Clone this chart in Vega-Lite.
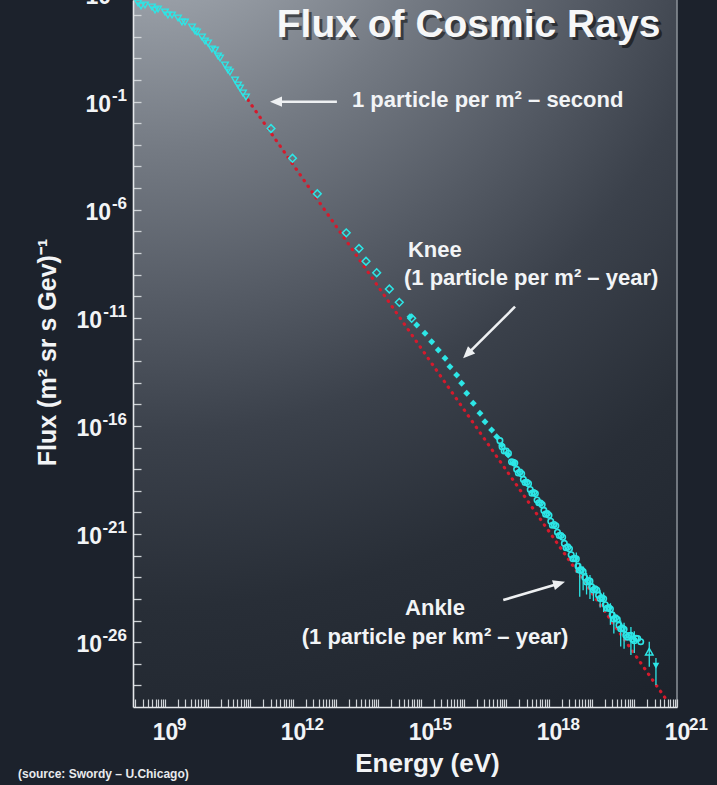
{
  "$schema": "https://vega.github.io/schema/vega-lite/v6.json",
  "width": 544,
  "height": 707,
  "autosize": {"type": "none"},
  "padding": {"left": 133, "top": 0, "right": 40, "bottom": 78},
  "background": "#1c222c",
  "config": {"view": {"stroke": null}, "font": "Liberation Sans"},
  "datasets": {
    "bg": [{"E": 177827941, "E2": 1e32, "F": 1e-29, "F2": 5011.87}],
    "border": [{"E": 1e21, "F": 1e-29, "F2": 5011.87}],
    "fit": [{"E": 8.81e10, "F": 0.119}, {"E": 6.31e20, "F": 1.58e-29}],
    "tri": [
      {"E": 2.33e8, "F": 3640}, {"E": 3.40e8, "F": 2940}, {"E": 4.95e8, "F": 2380}, {"E": 6.85e8, "F": 1920},
      {"E": 1.00e9, "F": 1400}, {"E": 1.46e9, "F": 1010}, {"E": 2.02e9, "F": 736}, {"E": 2.94e9, "F": 481},
      {"E": 4.30e9, "F": 282}, {"E": 5.62e9, "F": 166}, {"E": 7.36e9, "F": 97.5}, {"E": 1.02e10, "F": 51.4},
      {"E": 1.49e10, "F": 24.4}, {"E": 1.95e10, "F": 10.4}, {"E": 2.55e10, "F": 4.94}, {"E": 3.33e10, "F": 2.34},
      {"E": 4.38e10, "F": 1.00}, {"E": 5.73e10, "F": 0.427}, {"E": 7.91e10, "F": 0.163},
      {"E": 2.74e8, "F": 2640}, {"E": 5.83e8, "F": 1730}, {"E": 1.17e9, "F": 1010}, {"E": 2.50e9, "F": 481},
      {"E": 5.05e9, "F": 185}, {"E": 8.65e9, "F": 63.7}, {"E": 1.26e10, "F": 27.2}, {"E": 1.75e10, "F": 12.9},
      {"E": 2.99e10, "F": 2.90}, {"E": 5.14e10, "F": 0.587}, {"E": 6.73e10, "F": 0.251}
    ],
    "dia": [
      {"E": 3.05e11, "F": 5.70e-3}, {"E": 9.73e11, "F": 2.39e-4}, {"E": 3.71e12, "F": 5.45e-6},
      {"E": 1.77e13, "F": 8.55e-8}, {"E": 3.52e13, "F": 1.61e-8}, {"E": 5.14e13, "F": 4.15e-9},
      {"E": 9.14e13, "F": 1.22e-9}, {"E": 1.81e14, "F": 2.15e-10}, {"E": 3.10e14, "F": 5.21e-11},
      {"E": 6.05e14, "F": 9.51e-12}
    ],
    "knee": [
      {"E": 5.52e14, "F": 1.13e-11}, {"E": 7.93e14, "F": 4.66e-12}, {"E": 1.24e15, "F": 1.92e-12},
      {"E": 1.78e15, "F": 7.85e-13}, {"E": 2.54e15, "F": 3.24e-13}, {"E": 3.65e15, "F": 1.34e-13},
      {"E": 4.78e15, "F": 5.48e-14}, {"E": 6.85e15, "F": 2.26e-14}, {"E": 8.97e15, "F": 9.35e-15},
      {"E": 1.18e16, "F": 3.23e-15}, {"E": 1.68e16, "F": 1.11e-15}, {"E": 2.41e16, "F": 3.84e-16},
      {"E": 3.16e16, "F": 1.57e-16}, {"E": 4.53e16, "F": 6.47e-17}, {"E": 5.94e16, "F": 3.18e-17},
      {"E": 7.78e16, "F": 1.31e-17}, {"E": 1.11e17, "F": 4.52e-18}, {"E": 1.46e17, "F": 1.87e-18}
    ],
    "band": [
      {"E": 7.08e16, "F": 2.09e-17}, {"E": 8.91e16, "F": 6.92e-18}, {"E": 1.12e17, "F": 5.50e-18},
      {"E": 1.32e17, "F": 2.19e-18}, {"E": 1.58e17, "F": 1.91e-18}, {"E": 1.91e17, "F": 6.61e-19},
      {"E": 2.29e17, "F": 6.17e-19}, {"E": 2.75e17, "F": 2.40e-19}, {"E": 3.31e17, "F": 2.14e-19},
      {"E": 3.98e17, "F": 7.76e-20}, {"E": 4.79e17, "F": 7.41e-20}, {"E": 5.75e17, "F": 2.82e-20},
      {"E": 6.92e17, "F": 2.29e-20}, {"E": 8.32e17, "F": 8.32e-21}, {"E": 1.00e18, "F": 7.41e-21},
      {"E": 1.20e18, "F": 2.57e-21}, {"E": 1.45e18, "F": 2.40e-21}, {"E": 1.74e18, "F": 8.51e-22},
      {"E": 2.09e18, "F": 7.08e-22}, {"E": 2.51e18, "F": 2.34e-22}, {"E": 3.02e18, "F": 2.09e-22},
      {"E": 3.63e18, "F": 7.24e-23}, {"E": 4.37e18, "F": 7.08e-23}, {"E": 5.25e18, "F": 2.14e-23},
      {"E": 6.31e18, "F": 1.86e-23}, {"E": 7.59e18, "F": 6.03e-24}, {"E": 9.12e18, "F": 6.61e-24},
      {"E": 1.10e19, "F": 2.57e-24}, {"E": 1.32e19, "F": 2.57e-24}, {"E": 1.58e19, "F": 1.05e-24},
      {"E": 1.91e19, "F": 1.02e-24}, {"E": 2.29e19, "F": 3.72e-25}, {"E": 2.75e19, "F": 3.39e-25},
      {"E": 3.31e19, "F": 1.17e-25}, {"E": 3.98e19, "F": 1.15e-25}, {"E": 4.79e19, "F": 4.17e-26},
      {"E": 5.75e19, "F": 3.98e-26}, {"E": 6.92e19, "F": 1.70e-26}, {"E": 8.32e19, "F": 2.09e-26},
      {"E": 1.00e20, "F": 1.17e-26}, {"E": 1.20e20, "F": 1.48e-26}, {"E": 1.41e20, "F": 1.05e-26},
      {"E": 7.94e16, "F": 1.10e-17}, {"E": 1.00e17, "F": 6.97e-18}, {"E": 1.45e17, "F": 2.10e-18},
      {"E": 1.74e17, "F": 9.79e-19}, {"E": 2.09e17, "F": 7.40e-19}, {"E": 2.51e17, "F": 3.36e-19},
      {"E": 3.02e17, "F": 2.48e-19}, {"E": 3.63e17, "F": 1.15e-19}, {"E": 4.37e17, "F": 8.30e-20},
      {"E": 5.25e17, "F": 3.78e-20}, {"E": 6.31e17, "F": 2.72e-20}, {"E": 7.59e17, "F": 1.24e-20},
      {"E": 9.12e17, "F": 8.81e-21}, {"E": 1.10e18, "F": 3.91e-21}, {"E": 1.32e18, "F": 2.75e-21},
      {"E": 1.58e18, "F": 1.22e-21}, {"E": 1.91e18, "F": 8.51e-22}, {"E": 2.29e18, "F": 3.69e-22},
      {"E": 2.75e18, "F": 2.54e-22}, {"E": 3.31e18, "F": 1.10e-22}, {"E": 3.98e18, "F": 7.53e-23},
      {"E": 4.79e18, "F": 3.27e-23}, {"E": 5.75e18, "F": 2.24e-23}, {"E": 6.92e18, "F": 9.73e-24},
      {"E": 8.32e18, "F": 7.08e-24}, {"E": 1.00e19, "F": 3.60e-24}, {"E": 1.20e19, "F": 2.90e-24},
      {"E": 1.45e19, "F": 1.47e-24}, {"E": 1.74e19, "F": 1.14e-24}, {"E": 2.09e19, "F": 5.38e-25},
      {"E": 2.51e19, "F": 3.97e-25}, {"E": 3.02e19, "F": 1.83e-25}, {"E": 3.63e19, "F": 1.33e-25},
      {"E": 4.37e19, "F": 6.12e-26}, {"E": 5.25e19, "F": 4.47e-26}, {"E": 6.31e19, "F": 2.06e-26},
      {"E": 7.59e19, "F": 2.03e-26}, {"E": 9.12e19, "F": 1.37e-26}, {"E": 1.10e20, "F": 1.52e-26}
    ],
    "err": [
      {"E": 4.37e18, "F": 1.6e-23, "F2": 1.4e-22}, {"E": 5.25e18, "F": 1.26e-24, "F2": 3.98e-23},
      {"E": 6.31e18, "F": 2.51e-24, "F2": 3.16e-23}, {"E": 7.59e18, "F": 1.6e-24, "F2": 1.6e-23},
      {"E": 9.12e18, "F": 1.0e-24, "F2": 1.26e-23}, {"E": 1.10e19, "F": 7.94e-25, "F2": 5.01e-24},
      {"E": 1.58e19, "F": 4.0e-25, "F2": 2.5e-24},
      {"E": 1.91e19, "F": 2.51e-25, "F2": 2.00e-24}, {"E": 2.75e19, "F": 6.31e-26, "F2": 6.31e-25},
      {"E": 3.31e19, "F": 2.51e-26, "F2": 2.51e-25}, {"E": 4.79e19, "F": 6.31e-27, "F2": 1.0e-25},
      {"E": 5.75e19, "F": 5.01e-27, "F2": 7.94e-26}, {"E": 8.32e19, "F": 2.51e-27, "F2": 5.01e-26},
      {"E": 1.0e20, "F": 3.16e-27, "F2": 3.16e-26}, {"E": 2.24e20, "F": 7.24e-28, "F2": 1.05e-26},
      {"E": 3.21e20, "F": 1.05e-28, "F2": 1.86e-27}
    ],
    "up": [{"E": 2.24e20, "F": 3.61e-27}],
    "down": [{"E": 3.21e20, "F": 8.11e-28}],
    "arrows": [
      {"E": 1.07e13, "F": 0.099, "E2": 3.99e11, "F2": 0.099},
      {"E": 1.60e17, "F": 3.27e-11, "E2": 1.22e16, "F2": 2.10e-13},
      {"E": 8.47e16, "F": 8.87e-25, "E2": 1.74e18, "F2": 5.20e-24}
    ],
    "heads": [
      {"id": "a1", "E": 3.99e11, "F": 0.099},
      {"id": "a2", "E": 1.22e16, "F": 2.10e-13},
      {"id": "a3", "E": 1.74e18, "F": 5.20e-24}
    ],
    "xexp": [
      {"E": 1e9, "F": 1e-29, "t": "9"}, {"E": 1e12, "F": 1e-29, "t": "12"}, {"E": 1e15, "F": 1e-29, "t": "15"},
      {"E": 1e18, "F": 1e-29, "t": "18"}, {"E": 1e21, "F": 1e-29, "t": "21"}
    ],
    "yexp": [
      {"E": 177827941, "F": 10000, "t": "4"},
      {"E": 177827941, "F": 0.1, "t": "-1"}, {"E": 177827941, "F": 1e-6, "t": "-6"},
      {"E": 177827941, "F": 1e-11, "t": "-11"}, {"E": 177827941, "F": 1e-16, "t": "-16"},
      {"E": 177827941, "F": 1e-21, "t": "-21"}, {"E": 177827941, "F": 1e-26, "t": "-26"}
    ],
    "ttl": [{"E": 1.30e16, "F": 97.5, "t": "Flux of Cosmic Rays"}],
    "annL": [
      {"E": 2.41e13, "F": 0.0535, "t": "1 particle per m² – second"},
      {"E": 4.95e14, "F": 6.71e-9, "t": "Knee"},
      {"E": 3.99e14, "F": 3.30e-10, "t": "(1 particle per m² – year)"}
    ],
    "annC": [
      {"E": 2.13e15, "F": 1.79e-25, "t": "Ankle"},
      {"E": 2.13e15, "F": 8.18e-27, "t": "(1 particle per km² – year)"}
    ],
    "src": [{"E": 3.59e5, "F": 5.19e-33, "t": "(source: Swordy – U.Chicago)"}]
  },
  "encoding": {
    "x": {
      "field": "E",
      "type": "quantitative",
      "scale": {"type": "log", "domain": [177827941, 1e21], "nice": false, "zero": false},
      "axis": {
        "zindex": 2,
        "title": "Energy (eV)",
        "titleFont": "Liberation Sans",
        "titleFontWeight": "bold",
        "titleFontSize": 26,
        "titleColor": "#f2f4f6",
        "titleX": 294,
        "titleY": 64,
        "titleBaseline": "alphabetic",
        "titleAlign": "center",
        "values": [2e8,3e8,4e8,5e8,6e8,7e8,8e8,9e8,
          1e9,2e9,3e9,4e9,5e9,6e9,7e9,8e9,9e9,
          1e10,2e10,3e10,4e10,5e10,6e10,7e10,8e10,9e10,
          1e11,2e11,3e11,4e11,5e11,6e11,7e11,8e11,9e11,
          1e12,2e12,3e12,4e12,5e12,6e12,7e12,8e12,9e12,
          1e13,2e13,3e13,4e13,5e13,6e13,7e13,8e13,9e13,
          1e14,2e14,3e14,4e14,5e14,6e14,7e14,8e14,9e14,
          1e15,2e15,3e15,4e15,5e15,6e15,7e15,8e15,9e15,
          1e16,2e16,3e16,4e16,5e16,6e16,7e16,8e16,9e16,
          1e17,2e17,3e17,4e17,5e17,6e17,7e17,8e17,9e17,
          1e18,2e18,3e18,4e18,5e18,6e18,7e18,8e18,9e18,
          1e19,2e19,3e19,4e19,5e19,6e19,7e19,8e19,9e19,
          1e20,2e20,3e20,4e20,5e20,6e20,7e20,8e20,9e20,1e21],
        "labelExpr": "abs(log(datum.value)/LN10 - round(log(datum.value)/LN10)) < 0.001 && round(log(datum.value)/LN10) % 3 == 0 ? '10' : ''",
        "labelFont": "Liberation Sans",
        "labelFontWeight": "bold",
        "labelFontSize": 23,
        "labelColor": "#f2f4f6",
        "labelBaseline": "alphabetic",
        "labelPadding": 40,
        "labelOverlap": false,
        "labelFlush": false,
        "labelBound": false,
        "tickSize": -8,
        "tickColor": "#d0d4d8",
        "tickWidth": 1.2,
        "domainColor": "#e4e7ea",
        "domainWidth": 1.6,
        "grid": false,
        "encode": {
          "ticks": {"y2": {"condition": {"test": "abs(log(datum.value)/LN10 - round(log(datum.value)/LN10)) < 0.001", "value": -8}, "value": -4}}
        }
      }
    },
    "y": {
      "field": "F",
      "type": "quantitative",
      "scale": {"type": "log", "domain": [1e-29, 5011.87], "nice": false},
      "axis": {
        "zindex": 2,
        "title": "Flux (m² sr s Gev)⁻¹",
        "titleFont": "Liberation Sans",
        "titleFontWeight": "bold",
        "titleFontSize": 25,
        "titleColor": "#f2f4f6",
        "titleAngle": -90,
        "titleX": -86,
        "titleY": 352,
        "titleAlign": "center",
        "titleBaseline": "middle",
        "values": [1000,100,10,1,0.1,1e-2,1e-3,1e-4,1e-5,1e-6,1e-7,1e-8,1e-9,1e-10,1e-11,1e-12,1e-13,1e-14,1e-15,1e-16,1e-17,1e-18,1e-19,1e-20,1e-21,1e-22,1e-23,1e-24,1e-25,1e-26,1e-27,1e-28],
        "labels": false,
        "tickSize": -8,
        "tickColor": "#d0d4d8",
        "tickWidth": 1.3,
        "domainColor": "#e4e7ea",
        "domainWidth": 1.6,
        "grid": false
      }
    }
  },
  "layer": [
    {
      "data": {"name": "bg"},
      "mark": {
        "type": "rect",
        "clip": true,
        "fill": {
          "gradient": "radial",
          "x1": 0.017, "y1": 0, "r1": 0,
          "x2": 0.017, "y2": 0, "r2": 1.0,
          "stops": [
            {"offset": 0, "color": "#bcc2c8"},
            {"offset": 0.15, "color": "#989ea6"},
            {"offset": 0.3, "color": "#747a83"},
            {"offset": 0.45, "color": "#555b65"},
            {"offset": 0.58, "color": "#3b414b"},
            {"offset": 0.75, "color": "#282e37"},
            {"offset": 1, "color": "#1c222b"}
          ]
        }
      },
      "encoding": {"x2": {"field": "E2"}, "y2": {"field": "F2"}}
    },
    {
      "data": {"name": "border"},
      "mark": {"type": "rule", "color": "#8d939a", "strokeWidth": 1.5},
      "encoding": {"y2": {"field": "F2"}}
    },
    {
      "data": {"name": "fit"},
      "mark": {"type": "line", "color": "#d41a2c", "strokeWidth": 3.2, "strokeDash": [0.5, 6.5], "strokeCap": "round"},
      "encoding": {}
    },
    {
      "data": {"name": "tri"},
      "mark": {"type": "point", "shape": "triangle-down", "filled": false, "size": 45, "strokeWidth": 1.3, "color": "#2de6e6", "opacity": 1}
    },
    {
      "data": {"name": "dia"},
      "mark": {"type": "point", "shape": "diamond", "filled": false, "size": 60, "strokeWidth": 1.5, "color": "#2de6e6", "opacity": 1}
    },
    {
      "data": {"name": "err"},
      "mark": {"type": "rule", "color": "#2de6e6", "strokeWidth": 1.3},
      "encoding": {"y2": {"field": "F2"}}
    },
    {
      "data": {"name": "band"},
      "mark": {"type": "point", "shape": "circle", "filled": false, "size": 30, "strokeWidth": 1.6, "color": "#2de6e6", "opacity": 1}
    },
    {
      "data": {"name": "knee"},
      "mark": {"type": "point", "shape": "diamond", "filled": true, "size": 48, "color": "#2de6e6", "opacity": 1}
    },
    {
      "data": {"name": "up"},
      "mark": {"type": "point", "shape": "triangle-up", "filled": false, "size": 55, "strokeWidth": 1.5, "color": "#2de6e6", "opacity": 1}
    },
    {
      "data": {"name": "down"},
      "mark": {"type": "point", "shape": "triangle-down", "filled": true, "size": 45, "color": "#2de6e6", "opacity": 1}
    },
    {
      "data": {"name": "arrows"},
      "mark": {"type": "rule", "color": "#eef0f2", "strokeWidth": 2.6},
      "encoding": {"x2": {"field": "E2"}, "y2": {"field": "F2"}}
    },
    {
      "data": {"name": "heads"},
      "transform": [{"filter": "datum.id == 'a1'"}],
      "mark": {"type": "point", "shape": "M0,-1L0.85,1L-0.85,1Z", "filled": true, "size": 144, "angle": 270, "color": "#eef0f2", "opacity": 1}
    },
    {
      "data": {"name": "heads"},
      "transform": [{"filter": "datum.id == 'a2'"}],
      "mark": {"type": "point", "shape": "M0,-1L0.85,1L-0.85,1Z", "filled": true, "size": 144, "angle": 225, "color": "#eef0f2", "opacity": 1}
    },
    {
      "data": {"name": "heads"},
      "transform": [{"filter": "datum.id == 'a3'"}],
      "mark": {"type": "point", "shape": "M0,-1L0.85,1L-0.85,1Z", "filled": true, "size": 144, "angle": 73.5, "color": "#eef0f2", "opacity": 1}
    },
    {
      "data": {"name": "xexp"},
      "mark": {"type": "text", "align": "left", "baseline": "alphabetic", "font": "Liberation Sans", "fontWeight": "bold", "fontSize": 17, "color": "#f2f4f6", "dx": 12, "dy": 23},
      "encoding": {"text": {"field": "t"}}
    },
    {
      "data": {"name": "yexp"},
      "mark": {"type": "text", "align": "right", "baseline": "middle", "font": "Liberation Sans", "fontWeight": "bold", "fontSize": 17, "color": "#f2f4f6", "dx": -6, "dy": -6},
      "encoding": {"text": {"field": "t"}}
    },
    {
      "data": {"name": "yexp"},
      "transform": [{"filter": "length(datum.t) <= 2"}],
      "mark": {"type": "text", "align": "right", "baseline": "middle", "font": "Liberation Sans", "fontWeight": "bold", "fontSize": 23, "color": "#f2f4f6", "dx": -22, "dy": 3},
      "encoding": {"text": {"value": "10"}}
    },
    {
      "data": {"name": "yexp"},
      "transform": [{"filter": "length(datum.t) == 3"}],
      "mark": {"type": "text", "align": "right", "baseline": "middle", "font": "Liberation Sans", "fontWeight": "bold", "fontSize": 23, "color": "#f2f4f6", "dx": -31, "dy": 3},
      "encoding": {"text": {"value": "10"}}
    },
    {
      "data": {"name": "ttl"},
      "mark": {"type": "text", "align": "center", "baseline": "alphabetic", "font": "Liberation Sans", "fontWeight": "bold", "fontSize": 39, "color": "#000000", "opacity": 0.5, "dx": 3, "dy": 3},
      "encoding": {"text": {"field": "t"}}
    },
    {
      "data": {"name": "ttl"},
      "mark": {"type": "text", "align": "center", "baseline": "alphabetic", "font": "Liberation Sans", "fontWeight": "bold", "fontSize": 39, "color": "#f6f7f8"},
      "encoding": {"text": {"field": "t"}}
    },
    {
      "data": {"name": "annL"},
      "mark": {"type": "text", "align": "left", "baseline": "alphabetic", "font": "Liberation Sans", "fontWeight": "bold", "fontSize": 22, "color": "#f2f4f6"},
      "encoding": {"text": {"field": "t"}}
    },
    {
      "data": {"name": "annC"},
      "mark": {"type": "text", "align": "center", "baseline": "alphabetic", "font": "Liberation Sans", "fontWeight": "bold", "fontSize": 22, "color": "#f2f4f6"},
      "encoding": {"text": {"field": "t"}}
    },
    {
      "data": {"name": "src"},
      "mark": {"type": "text", "align": "left", "baseline": "alphabetic", "font": "Liberation Sans", "fontWeight": "bold", "fontSize": 12, "color": "#e8eaec"},
      "encoding": {"text": {"field": "t"}}
    }
  ]
}
